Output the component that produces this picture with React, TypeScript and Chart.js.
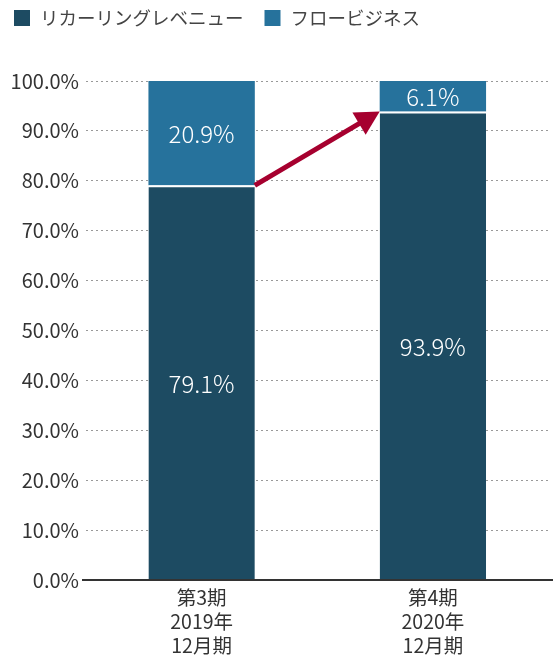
import React, { useEffect, useRef } from "react";
import { Chart, registerables } from "chart.js";

Chart.register(...registerables);

const categories = [["第3期", "2019年", "12月期"], ["第4期", "2020年", "12月期"]];
const seriesNames = ["リカーリングレベニュー", "フロービジネス"];
const recurring = [79.1, 93.9];
const flow = [20.9, 6.1];
const colors = ["#1d4b62", "#26729c"];
const arrowColor = "#a6002f";
const FONT = "'Noto Sans CJK JP', 'Noto Sans', sans-serif";

const legendPlugin = {
  id: "manualLegend",
  afterDraw(chart: any) {
    const ctx = chart.ctx;
    ctx.save();
    ctx.font = `18.5px ${FONT}`;
    ctx.textBaseline = "middle";
    ctx.textAlign = "left";
    let x = 14;
    chart.data.datasets.forEach((ds: any) => {
      ctx.fillStyle = ds.backgroundColor;
      ctx.fillRect(x, 10, 16, 16);
      ctx.fillStyle = "#444";
      ctx.fillText(ds.label, x + 26, 18);
      x += 26 + ctx.measureText(ds.label).width + 21;
    });
    ctx.restore();
  },
};

const overlayPlugin = {
  id: "overlay",
  afterDatasetsDraw(chart: any) {
    const ctx = chart.ctx;
    const area = chart.chartArea;
    const y = chart.scales.y;
    ctx.save();
    ctx.strokeStyle = "#333";
    ctx.lineWidth = 2;
    ctx.beginPath();
    ctx.moveTo(area.left - 4, y.getPixelForValue(0));
    ctx.lineTo(chart.width, y.getPixelForValue(0));
    ctx.stroke();

    ctx.fillStyle = "#fff";
    ctx.font = `300 24px ${FONT}`;
    ctx.textAlign = "center";
    ctx.textBaseline = "middle";
    chart.data.datasets.forEach((ds: any, di: number) => {
      const meta = chart.getDatasetMeta(di);
      meta.data.forEach((bar: any, i: number) => {
        const cy = (bar.y + bar.base) / 2;
        ctx.fillText(ds.data[i].toFixed(1) + "%", bar.x, cy + 1);
      });
    });

    const m0 = chart.getDatasetMeta(0);
    const b0 = m0.data[0];
    const b1 = m0.data[1];
    const x0 = b0.x + b0.width / 2;
    const y0 = b0.y;
    const x1 = b1.x - b1.width / 2;
    const y1 = b1.y;
    const ang = Math.atan2(y1 - y0, x1 - x0);
    const headLen = 24;
    const headHalf = 13;
    const bx = x1 - headLen * Math.cos(ang);
    const by = y1 - headLen * Math.sin(ang);
    ctx.strokeStyle = arrowColor;
    ctx.fillStyle = arrowColor;
    ctx.lineWidth = 5;
    ctx.beginPath();
    ctx.moveTo(x0, y0);
    ctx.lineTo(bx + 2 * Math.cos(ang), by + 2 * Math.sin(ang));
    ctx.stroke();
    ctx.beginPath();
    ctx.moveTo(x1, y1);
    ctx.lineTo(bx + headHalf * Math.sin(ang), by - headHalf * Math.cos(ang));
    ctx.lineTo(bx - headHalf * Math.sin(ang), by + headHalf * Math.cos(ang));
    ctx.closePath();
    ctx.fill();
    ctx.restore();
  },
};

export default function App() {
  const ref = useRef<HTMLCanvasElement>(null);
  useEffect(() => {
    document.body.style.margin = "0";
    const chart = new Chart(ref.current!, {
      type: "bar",
      data: {
        labels: categories,
        datasets: [
          {
            label: seriesNames[0],
            data: recurring,
            backgroundColor: colors[0],
            borderColor: "#ffffff",
            borderWidth: { top: 2, left: 0, right: 0, bottom: 0 },
            borderSkipped: false,
            categoryPercentage: 1,
            barPercentage: 0.46,
          },
          {
            label: seriesNames[1],
            data: flow,
            backgroundColor: colors[1],
            borderWidth: 0,
            categoryPercentage: 1,
            barPercentage: 0.46,
          },
        ],
      },
      options: {
        animation: false,
        responsive: true,
        maintainAspectRatio: false,
        layout: { padding: { top: 81, right: 4.5, left: 4, bottom: 0 } },
        plugins: {
          legend: { display: false },
          tooltip: { enabled: false },
        },
        scales: {
          x: {
            stacked: true,
            grid: { display: false, drawTicks: false },
            border: { display: false },
            afterFit: (s: any) => { s.height = 78; },
            ticks: { color: "#333", font: { family: FONT, size: 19.5, lineHeight: 1.23 }, padding: 6 },
          },
          y: {
            stacked: true,
            min: 0,
            max: 100,
            border: { display: false, dash: [2, 3] },
            grid: {
              color: "#999",
              lineWidth: 1,
              drawTicks: false,
            },
            afterFit: (s: any) => { s.width = 82; },
            ticks: {
              stepSize: 10,
              padding: 7,
              color: "#333",
              font: { family: FONT, size: 20 },
              callback: (v: any) => Number(v).toFixed(1) + "%",
            },
          },
        },
      },
      plugins: [overlayPlugin, legendPlugin],
    } as any);
    return () => chart.destroy();
  }, []);
  return (
    <div style={{ width: 553, height: 658, position: "relative" }}>
      <canvas ref={ref} />
    </div>
  );
}
